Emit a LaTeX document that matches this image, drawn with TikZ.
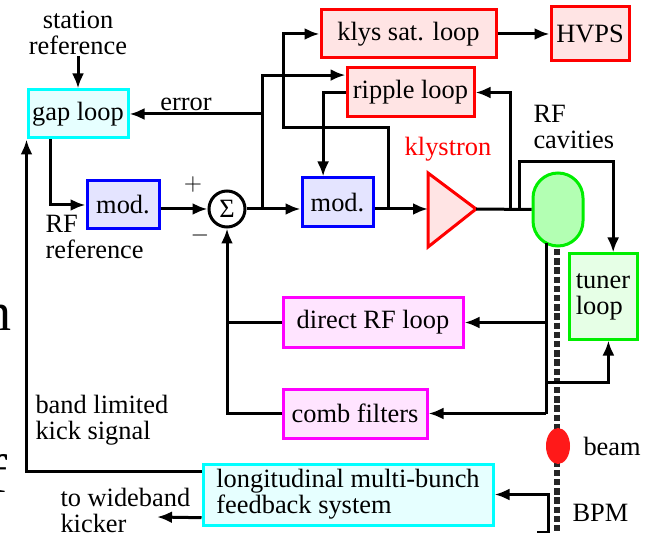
\documentclass[tikz,border=0pt]{standalone}
\usepackage{fontspec}
\setmainfont{Liberation Serif}
\usetikzlibrary{shapes}
\usetikzlibrary{arrows.meta}
\definecolor{boxcyan}{RGB}{0,255,255}
\definecolor{fillcyan}{RGB}{230,255,255}
\definecolor{fillblue}{RGB}{228,228,255}
\definecolor{boxred}{RGB}{255,0,0}
\definecolor{fillred}{RGB}{255,228,228}
\definecolor{boxmag}{RGB}{255,0,255}
\definecolor{fillmag}{RGB}{255,228,255}
\definecolor{boxgreen}{RGB}{0,238,0}
\definecolor{fillgreen}{RGB}{230,255,230}
\definecolor{fillcav}{RGB}{179,255,179}
\definecolor{beamred}{RGB}{255,25,25}
\tikzset{
	blk/.style = {rectangle, draw, line width=1.5pt, inner sep=0pt,
		align=center},
	blk_c/.style = {blk, draw=boxcyan, fill=fillcyan},% boite cyan
	blk_b/.style = {blk, draw=blue, fill=fillblue},% modulateur
	blk_r/.style = {blk, draw=boxred, fill=fillred},% boucles klystron
	blk_m/.style = {blk, draw=boxmag, fill=fillmag},% boucles RF
	blk_g/.style = {blk, draw=boxgreen, fill=fillgreen},% accord
	lbl/.style = {inner sep=0pt, align=left},
	cavity/.style = {rectangle, rounded corners=12.5pt, draw=boxgreen,
		fill=fillcav, line width=1.5pt, minimum width=25pt, minimum height=36.5pt},
	beamline/.style = {line width=2.6pt, black!85, dash pattern=on 3.2pt off 1.4pt},
	bunch/.style = {ellipse, fill=beamred, draw=none, minimum width=12pt,
		minimum height=18pt, inner sep=0pt}
}

\begin{document}
\begin{tikzpicture}[->,>={Latex[length=7.5pt,width=6pt]},line width=1.5pt,x=0.5pt,y=-0.5pt,
		font=\fontsize{13.2}{13}\selectfont]
	\useasboundingbox (0,0) rectangle (651,533);
	% blocs
	\node[blk_c, minimum width=50pt, minimum height=24pt] (gap) at (78,114) {gap loop};
	\node[blk_b, minimum width=36pt, minimum height=24pt] (mod1) at (123,205) {mod.};
	\node[circle, draw, line width=1.5pt, minimum size=18pt, inner sep=0pt] (sum) at (227,209) {Σ};
	\node[blk_b, minimum width=35.5pt, minimum height=24.5pt] (mod2) at (337.5,202.5) {mod.};
	\node[blk_r, minimum width=87.5pt, minimum height=24pt] (klys) at (408.5,34) {klys sat. loop};
	\node[blk_r, minimum width=39pt, minimum height=27pt] (hvps) at (590,34) {HVPS};
	\node[blk_r, minimum width=63.5pt, minimum height=24.5pt] (ripple) at (410.5,92.5) {ripple loop};
	\node[blk_g, minimum width=34pt, minimum height=42.5pt, align=left] (tuner) at (603,296.5) {tuner\\loop};
	\node[blk_m, minimum width=90pt, minimum height=24.5pt] (drf) at (373,322.5) {direct RF loop};
	\node[blk_m, minimum width=72pt, minimum height=24.5pt] (comb) at (355,413.5) {comb filters};
	\node[blk_c, minimum width=145pt, minimum height=30.5pt, align=left] (long) at (348,494.5)
		{longitudinal multi-bunch\\feedback system};
	% klystron et cavites
	\draw[-, draw=boxred, fill=fillred] (428,173) -- (476,209) -- (428,247) -- cycle;
	\coordinate (kin) at (428,209);
	\coordinate (kout) at (476,209);
	\draw[-, beamline] (557,249) -- (557,533);
	\node[cavity] (cav) at (558,209.5) {};
	\node[bunch] (beam) at (558,446) {};
	% points de jonction
	\coordinate (j1) at (262,209);
	\coordinate (j2) at (388,209);
	\coordinate (j3) at (510,209);
	\coordinate (j4) at (519,209);
	\coordinate (tap) at (546,243);
	\coordinate (bpm) at (537,532);
	\coordinate (kicker) at (157,517);
	% etiquettes
	\node[lbl, align=center] (st) at (78,33) {station\\reference};
	\node[lbl] (err) at (186,104) {error};
	\node[lbl] (plus) at (193,185) {$+$};
	\node[lbl] (minus) at (200,236) {$-$};
	\node[lbl, anchor=north west] (rfref) at (44,214) {RF\\reference};
	\node[lbl, boxred] (klyl) at (448,149) {klystron};
	\node[lbl, anchor=north west] (rfcav) at (532,104) {RF\\cavities};
	\node[lbl, anchor=west] (beaml) at (582,446) {beam};
	\node[lbl, anchor=west] (bpml) at (571,513) {BPM};
	\node[lbl, anchor=north west] (kick) at (34,394) {band limited\\kick signal};
	\node[lbl, anchor=north west] (wide) at (59,487) {to wideband\\kicker};
	\node[lbl, anchor=base east, font=\fontsize{27}{27}\selectfont] (pn) at (13,330) {n};
	\node[lbl, anchor=base east, font=\fontsize{27}{27}\selectfont] (pf) at (9,492) {f};
	% liaisons
	\draw (st) -- (gap);
	\draw (gap.-137) |- (mod1.west);
	\draw (mod1.east |- sum.west) -- (sum.west);
	\draw (sum.east) -- (mod2.west |- sum.east);
	\draw (j1) |- (gap.east);
	\draw (j1) |- (ripple.165);
	\draw (mod2.east |- sum.east) -- (kin);
	\draw (j2) |- (283,128) |- (klys.west);
	\draw (klys.east) -- (hvps.west);
	\draw[-] (kout) -- (cav.west);
	\draw (j3) |- (ripple.east);
	\draw (ripple.west) -| (mod2.119);
	\draw (j4) -- (519,162) -| (tuner.77);
	\draw[-] (tap) -- (tap |- comb.east);
	\draw (tap |- drf.east) -- (drf.east);
	\draw (tap |- comb.east) -- (comb.east);
	\draw (546,382) -| (tuner.-83);
	\draw[-] (drf.west) -- (sum |- drf.west);
	\draw (comb.west) -| (sum.south);
	\draw (bpm) -- (548,532) |- (long.east);
	\draw (long.171) -| (gap.south west);
	\draw (long.189) -- (kicker);
\end{tikzpicture}
\end{document}
